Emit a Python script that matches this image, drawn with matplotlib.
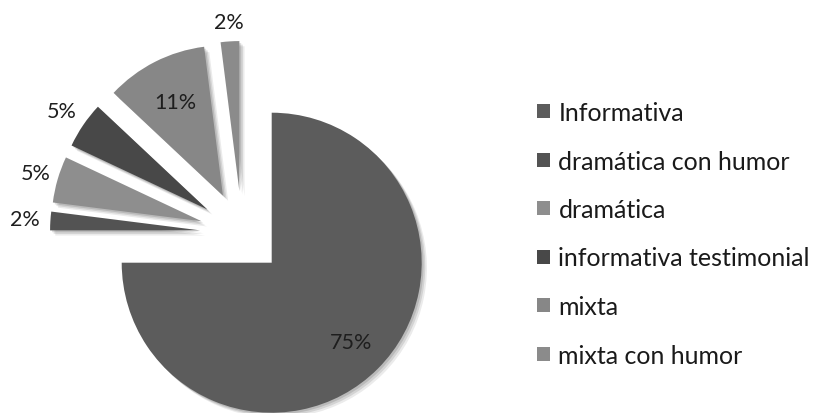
import numpy as np
import matplotlib.pyplot as plt
from matplotlib.patches import Shadow

categorias = ["Informativa", "dramática con humor", "dramática",
              "informativa testimonial", "mixta", "mixta con humor"]
porcentajes = [75, 2, 5, 5, 11, 2]

colores = ["#5c5c5c", "#535353", "#8e8e8e", "#484848", "#878787", "#8b8b8b"]
# distance of each percentage label from its wedge tip (radius units)
dist_etiqueta = [0.75, 1.17, 1.15, 1.17, 0.70, 1.13]

plt.rcParams['font.family'] = ['Lato', 'DejaVu Sans']

fig = plt.figure(figsize=(8.17, 4.14), dpi=100)
ax = fig.add_axes([0, 0, 484 / 817, 360 / 414])

wedges, _ = ax.pie(porcentajes, colors=colores, startangle=90,
                   counterclock=False, radius=1.0,
                   explode=[0.28] * len(porcentajes),
                   wedgeprops=dict(linewidth=0))

for w, p, d in zip(wedges, porcentajes, dist_etiqueta):
    w.set_clip_on(False)
    # soft drop shadow under each wedge
    for k, a in [(0.025, 0.08), (0.017, 0.1), (0.009, 0.12)]:
        sh = Shadow(w, k, -k, facecolor="#000000", alpha=a)
        sh.set_zorder(w.get_zorder() - 0.5)
        sh.set_clip_on(False)
        ax.add_patch(sh)
    ang = np.deg2rad((w.theta1 + w.theta2) / 2)
    cx, cy = w.center
    ax.text(cx + d * np.cos(ang), cy + d * np.sin(ang), f"{p}%",
            ha="center", va="center", fontsize=15.5, color="#1e1e1e")

ax.set_xlim(-242 / 150, 242 / 150)
ax.set_ylim(-1.2, 1.2)
ax.set_aspect("equal")
ax.axis("off")

leg = fig.legend(wedges, categorias, loc="upper left",
                 bbox_to_anchor=(527 / 817, 1 - 92 / 414),
                 frameon=False, fontsize=18, handlelength=0.5,
                 handleheight=0.5, handletextpad=0.36,
                 labelspacing=1.02, borderaxespad=0)
for t in leg.get_texts():
    t.set_color("#1a1a1a")

fig.savefig("out.png", dpi=100, facecolor="white")
